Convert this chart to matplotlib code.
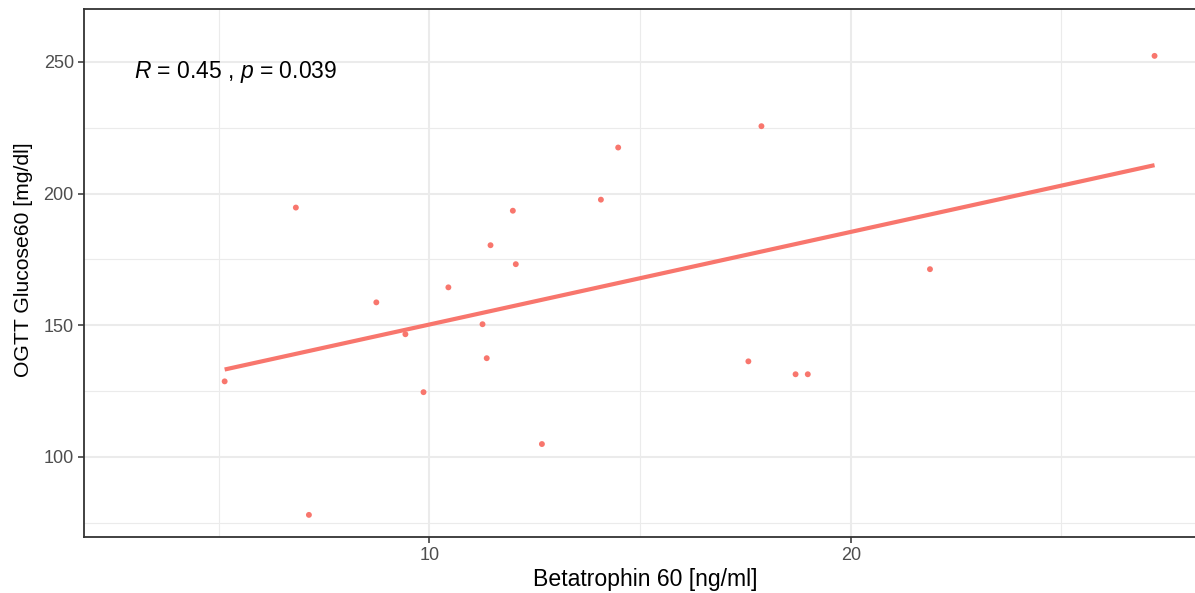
import numpy as np
import matplotlib.pyplot as plt

plt.rcParams['font.family'] = ['Liberation Sans', 'DejaVu Sans']
plt.rcParams['mathtext.fontset'] = 'custom'
plt.rcParams['mathtext.it'] = 'Liberation Sans:italic'
plt.rcParams['mathtext.rm'] = 'Liberation Sans'

# Betatrophin 60 vs OGTT Glucose60
betatrophin = [5.14, 6.83, 7.14, 8.74, 9.43, 9.86, 10.45, 11.26, 11.36, 11.45, 11.98,
               12.05, 12.67, 14.07, 14.48, 17.57, 17.88, 18.69, 18.98, 21.88, 27.21]
glucose = [128.7, 194.7, 78.0, 158.7, 146.6, 124.6, 164.4, 150.4, 137.5, 180.4, 193.5,
           173.2, 104.9, 197.7, 217.5, 136.3, 225.6, 131.4, 131.4, 171.3, 252.3]
label_r = "0.45"
label_p = "0.039"

col = '#F8766D'

fig = plt.figure(figsize=(11.95, 5.93), dpi=100)
ax = fig.add_axes([83.5 / 1195, 1 - 537 / 593, 1 - 83.5 / 1195 + 0.01, (537 - 9) / 593])

ax.scatter(betatrophin, glucose, s=18, color=col, edgecolors='none', zorder=3)

k, b = np.polyfit(betatrophin, glucose, 1)
xs = np.array([min(betatrophin), max(betatrophin)])
ax.plot(xs, k * xs + b, color=col, lw=3, zorder=2, solid_capstyle='butt')

ax.set_xlim(1.79, 28.17 + 0.01 * 1195 / 42.13)
ax.set_ylim(69.6, 270.1)

ax.set_xticks([10, 20])
ax.set_xticks([5, 15, 25], minor=True)
ax.set_yticks([100, 150, 200, 250])
ax.set_yticks([75, 125, 175, 225], minor=True)
ax.grid(which='major', color='#EBEBEB', lw=1.5)
ax.grid(which='minor', color='#EBEBEB', lw=0.8)
ax.set_axisbelow(True)

ax.tick_params(which='major', length=4, width=1.1, color='#333333',
               labelsize=13, labelcolor='#4D4D4D', pad=3)
ax.tick_params(which='minor', length=0)
for s in ax.spines.values():
    s.set_color('#333333')
    s.set_linewidth(1.3)

ax.set_xlabel('Betatrophin 60 [ng/ml]', fontsize=16.6, labelpad=3)
ax.set_ylabel('OGTT Glucose60 [mg/dl]', fontsize=15.2)
ax.yaxis.set_label_coords(-0.045, 0.525)

ax.text(2.98, 246, '$R$ = ' + label_r + ' , $p$ = ' + label_p, fontsize=16.5,
        ha='left', va='center')

fig.savefig('out.png', dpi=100)
